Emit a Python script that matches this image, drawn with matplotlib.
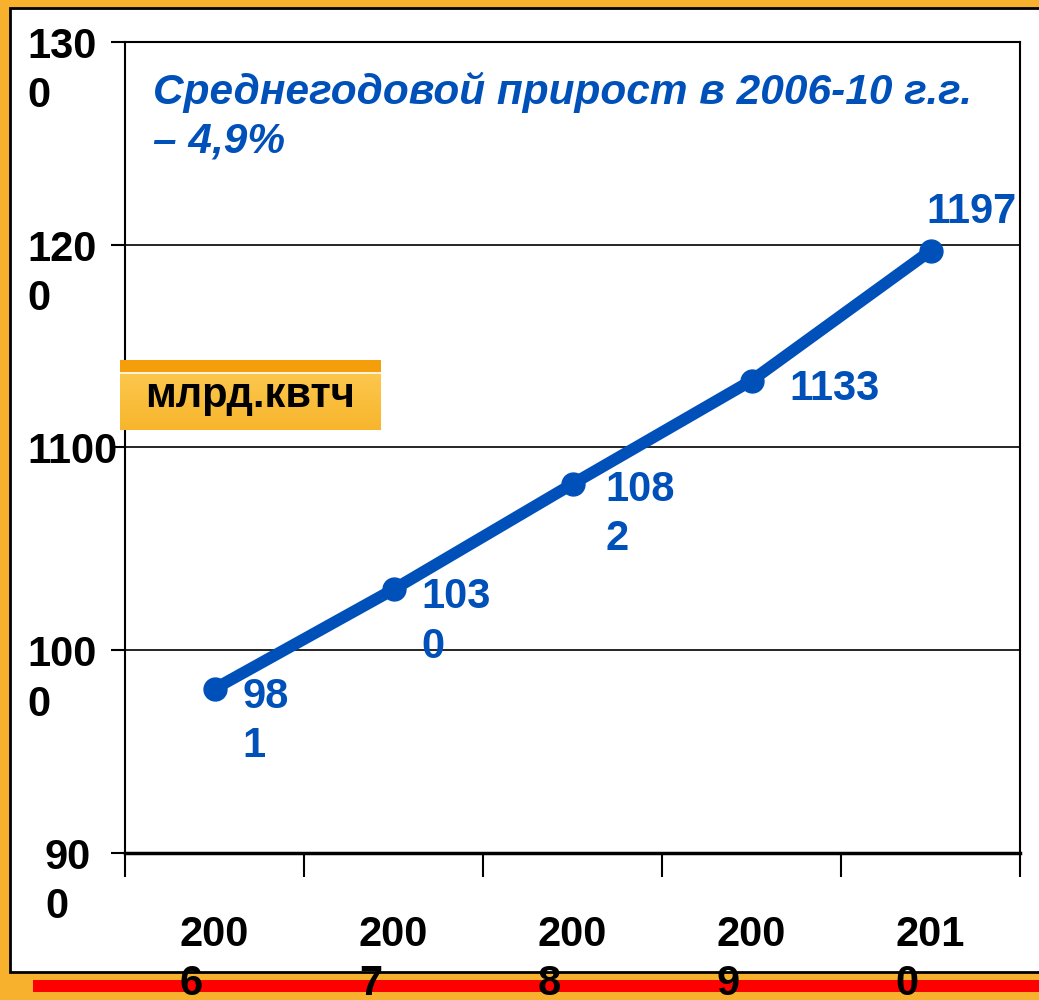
import numpy as np
import matplotlib
matplotlib.use("Agg")
from matplotlib import pyplot as plt
from matplotlib.patches import Rectangle

plt.rcParams['font.family'] = ['Liberation Sans', 'DejaVu Sans']

years = ["200\n6", "200\n7", "200\n8", "200\n9", "201\n0"]
values = [981, 1030, 1082, 1133, 1197]
value_labels = ["98\n1", "103\n0", "108\n2", "1133", "1197"]
y_ticks = [900, 1000, 1100, 1200, 1300]
y_tick_labels = ["90\n0", "100\n0", "1100", "120\n0", "130\n0"]
note = "Среднегодовой прирост в 2006-10 г.г.\n– 4,9%"
unit = "млрд.квтч"

W, H = 1039, 1000
blue = "#0050BA"
orange = "#F8B12C"

fig = plt.figure(figsize=(W / 100, H / 100), dpi=100)
fig.patch.set_facecolor(orange)

# white slide panel and red bottom stripe (behind the chart and its labels)
fig.add_artist(Rectangle((10 / W, 1 - 972 / H), (W - 8) / W, (972 - 8) / H,
                         transform=fig.transFigure, facecolor="white",
                         edgecolor="black", linewidth=2, zorder=-2))
fig.add_artist(Rectangle((33 / W, 1 - 992 / H), (W - 33) / W, 12 / H,
                         transform=fig.transFigure, facecolor="#FF0000",
                         edgecolor="none", zorder=-1))

ax = fig.add_axes([125 / W, 1 - 853 / H, (1020 - 125) / W, (853 - 42) / H])
ax.set_facecolor("none")
x = np.arange(len(values))
ax.plot(x, values, color=blue, linewidth=8.5, marker="o", markersize=16.5,
        solid_capstyle="round", zorder=3)

ax.set_xlim(-0.5, len(values) - 0.5)
ax.set_ylim(900, 1300)
ax.set_yticks(y_ticks)
ax.set_yticklabels([])
ax.set_xticks(np.arange(len(values) + 1) - 0.5)
ax.set_xticklabels([])
ax.tick_params(axis="y", length=10, width=1.5, direction="out")
ax.tick_params(axis="x", length=17, width=1.5, direction="out")
ax.grid(axis="y", color="black", linewidth=1.2)
for s in ax.spines.values():
    s.set_color("black")
    s.set_linewidth(1.5)
ax.spines["bottom"].set_linewidth(2.5)

tfont = dict(fontsize=30, fontweight="bold", color="black")
y_label_x = [45, 27, 27, 27, 27]
for v, lab, lx in zip(y_ticks, y_tick_labels, y_label_x):
    ax.annotate(lab, xy=(lx, v), xycoords=("figure pixels", "data"),
                xytext=(0, 15), textcoords="offset pixels",
                ha="left", va="top", linespacing=1.3,
                annotation_clip=False, **tfont)
for i, lab in enumerate(years):
    ax.annotate(lab, xy=(i, H - 915), xycoords=("data", "figure pixels"),
                ha="center", va="top", multialignment="left",
                linespacing=1.3, annotation_clip=False, zorder=5, **tfont)

offsets = [(28, 12), (28, 12), (33, 14), (38, 12), (-4, 59)]
for i, (v, lab) in enumerate(zip(values, value_labels)):
    ax.annotate(lab, xy=(i, v), xytext=offsets[i], textcoords="offset pixels",
                ha="left", va="top", linespacing=1.3,
                fontsize=30, fontweight="bold", color=blue, zorder=5)

ax.text(153 / W, 1 - 72 / H, note, transform=fig.transFigure,
        ha="left", va="top", fontsize=30.5, fontweight="bold",
        style="italic", color=blue, linespacing=1.28)

# unit badge
bax = fig.add_axes([120 / W, 1 - 430 / H, 261 / W, 70 / H], zorder=4)
cols = np.zeros((70, 1, 3))
top = np.array([0.96, 0.62, 0.05])
body = np.array([0.97, 0.71, 0.17])
light = np.array([0.99, 0.78, 0.30])
for r in range(70):
    if r < 12:
        cols[r, 0] = top
    elif r < 14:
        cols[r, 0] = [1, 0.95, 0.85]
    else:
        t = (r - 14) / 56
        cols[r, 0] = light * (1 - t) + body * t
bax.imshow(cols, aspect="auto", extent=(0, 1, 0, 1))
bax.set_axis_off()
bax.text(0.096, 0.33, unit, transform=bax.transAxes, ha="left", va="baseline",
         fontsize=30, fontweight="bold", color="black")

fig.savefig("out.png", dpi=100, facecolor=fig.get_facecolor())
